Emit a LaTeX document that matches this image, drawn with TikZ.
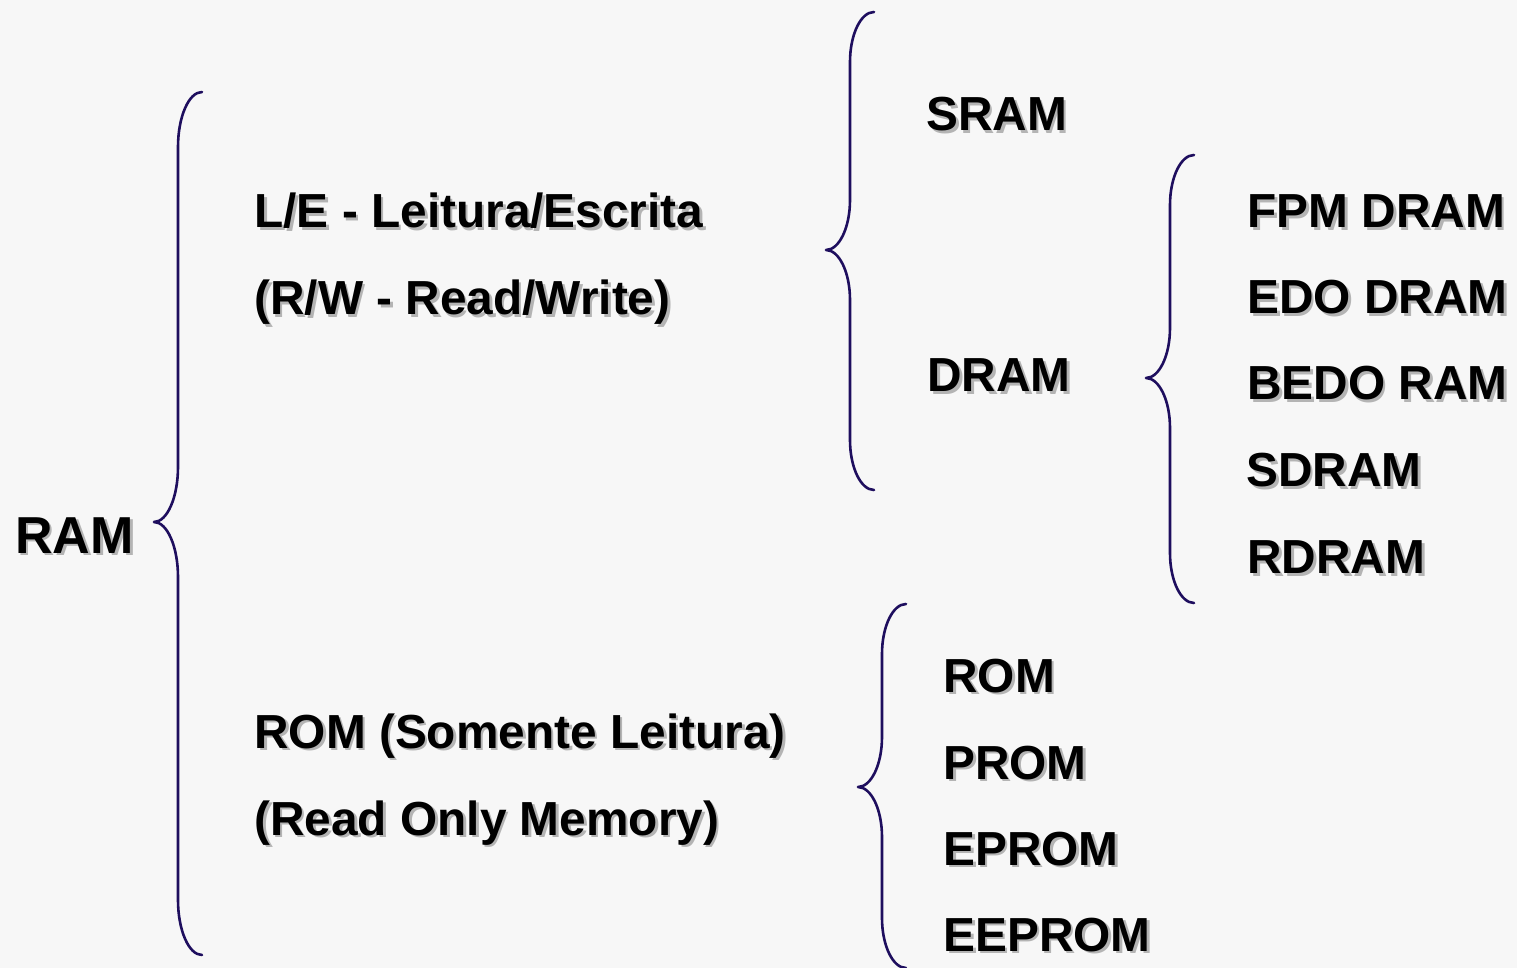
\documentclass[tikz,border=0pt]{standalone}
\usepackage{fontspec}
\setmainfont{Liberation Sans}
\definecolor{bgcol}{HTML}{F7F7F7}
\definecolor{bracecol}{HTML}{1E0E5E}
\definecolor{shadowcol}{HTML}{B4B4B4}
\tikzset{
  lbl/.style={anchor=base west, inner sep=0pt, font=\fontsize{23.9}{28}\selectfont\bfseries},
  biglbl/.style={lbl, font=\fontsize{26}{30}\selectfont\bfseries},
  bracestyle/.style={draw=bracecol, line width=1.3pt, line cap=round, line join=round}
}
% \lbl[style]{x,y}{name}{text}
\newcommand\lbl[4][lbl]{%
  \node[#1, text=shadowcol, xshift=1.3pt, yshift=-1.3pt] at (#2) {#4};
  \node[#1] (#3) at (#2) {#4};}
% \brc{xv}{ytop}{ymid}{ybot}{d}{h}
\newcommand\brc[6]{%
  \draw[bracestyle] (#1+#5,#2) .. controls (#1+0.45*#5,#2) and (#1,#2+0.45*#6) .. (#1,#2+#6)
    -- (#1,#3-#6) .. controls (#1,#3-0.45*#6) and (#1-0.45*#5,#3) .. (#1-#5,#3)
    .. controls (#1-0.45*#5,#3) and (#1,#3+0.45*#6) .. (#1,#3+#6)
    -- (#1,#4-#6) .. controls (#1,#4-0.45*#6) and (#1+0.45*#5,#4) .. (#1+#5,#4);}
\begin{document}
\begin{tikzpicture}[x=0.5pt,y=-0.5pt]
\fill[bgcol] (0,0) rectangle (1517,968);
\useasboundingbox (0,0) rectangle (1517,968);
% braces
\brc{178}{92}{522}{955}{24}{55}
\brc{850}{12}{250}{490}{24}{50}
\brc{1170}{155}{378}{603}{24}{50}
\brc{882}{604}{787}{968}{24}{50}
% labels
\lbl[biglbl]{15,553}{ram}{RAM}
\lbl{254,228}{le}{L/E - Leitura/Escrita}
\lbl{254,315}{rw}{(R/W - Read/Write)}
\lbl{254,748}{romsl}{ROM (Somente Leitura)}
\lbl{254,835}{rom2}{(Read Only Memory)}
\lbl{926,131}{sram}{SRAM}
\lbl{927,392}{dram}{DRAM}
\lbl{1247,228}{fpm}{FPM DRAM}
\lbl{1247,314}{edo}{EDO DRAM}
\lbl{1247,400}{bedo}{BEDO RAM}
\lbl{1246,487}{sdram}{SDRAM}
\lbl{1247,574}{rdram}{RDRAM}
\lbl{943,692}{rom}{ROM}
\lbl{943,779}{prom}{PROM}
\lbl{943,865}{eprom}{EPROM}
\lbl{943,951}{eeprom}{EEPROM}
\end{tikzpicture}
\end{document}
